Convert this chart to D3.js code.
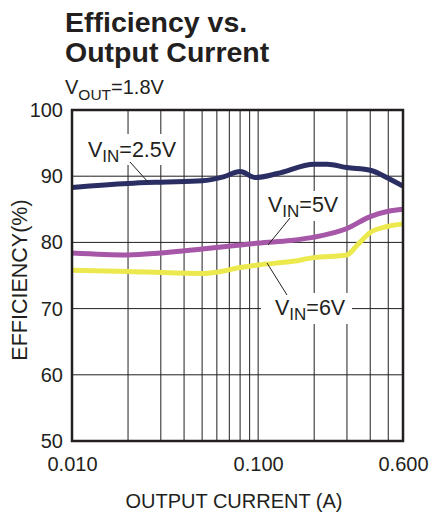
<!DOCTYPE html>
<html>
<head>
<meta charset="utf-8">
<script src="https://cdn.jsdelivr.net/npm/d3@7"></script>
<style>
body { margin: 0; background: #fff; }
text { font-family: "Liberation Sans", Arial, sans-serif; fill: #231f20; }
</style>
</head>
<body>
<div id="chart"></div>
<script>
// data
var vin25I   = [0.01, 0.02, 0.03, 0.05, 0.065, 0.08, 0.097, 0.127, 0.2, 0.235, 0.3, 0.4, 0.5, 0.6];
var vin25Eff = [88.3, 88.9, 89.1, 89.3, 89.9, 90.7, 89.8, 90.4, 91.8, 91.8, 91.3, 90.9, 89.7, 88.5];

var vin5I   = [0.01, 0.02, 0.03, 0.05, 0.08, 0.1, 0.15, 0.2, 0.3, 0.4, 0.5, 0.6];
var vin5Eff = [78.4, 78.1, 78.4, 79.0, 79.6, 79.9, 80.3, 80.8, 82.1, 83.9, 84.7, 85.0];

var vin6I   = [0.01, 0.02, 0.05, 0.06, 0.08, 0.1, 0.15, 0.2, 0.3, 0.341, 0.4, 0.494, 0.6];
var vin6Eff = [75.8, 75.6, 75.3, 75.5, 76.2, 76.6, 77.1, 77.7, 78.1, 79.6, 81.5, 82.4, 82.8];

var xGrid = [0.02, 0.03, 0.04, 0.05, 0.06, 0.07, 0.08, 0.09, 0.1, 0.2, 0.3, 0.4, 0.5];
var yGrid = [60, 70, 80, 90];
var xTicks = [0.01, 0.1, 0.6];
var yTicks = [50, 60, 70, 80, 90, 100];

var W = 430, H = 515;
var pad = {left: 72, right: 403, top: 110, bottom: 441};

var svg = d3.select("#chart").append("svg")
  .attr("width", W)
  .attr("height", H);

var x = d3.scaleLog().domain([0.01, 0.6]).range([pad.left, pad.right]);
var y = d3.scaleLinear().domain([50, 100]).range([pad.bottom, pad.top]);

// grid
svg.append("g").selectAll("line")
  .data(xGrid)
  .enter().append("line")
  .attr("x1", d => x(d)).attr("x2", d => x(d))
  .attr("y1", pad.top).attr("y2", pad.bottom)
  .attr("stroke", "#231f20").attr("stroke-width", 1);

svg.append("g").selectAll("line")
  .data(yGrid)
  .enter().append("line")
  .attr("x1", pad.left).attr("x2", pad.right)
  .attr("y1", d => y(d)).attr("y2", d => y(d))
  .attr("stroke", "#231f20").attr("stroke-width", 1);

// curves
var series = [
  {i: vin6I, e: vin6Eff, color: "#ece94e"},
  {i: vin5I, e: vin5Eff, color: "#a657a7"},
  {i: vin25I, e: vin25Eff, color: "#2b2e63"}
];

var line = d3.line()
  .x(d => x(d[0]))
  .y(d => y(d[1]))
  .curve(d3.curveMonotoneX);

svg.append("g").selectAll("path")
  .data(series)
  .enter().append("path")
  .attr("d", s => line(d3.zip(s.i, s.e)))
  .attr("fill", "none")
  .attr("stroke", s => s.color)
  .attr("stroke-width", 5)
  .attr("stroke-linecap", "butt");

// labels with white boxes and leaders
var labels = [
  {v: "=2.5V", tx: 88, ty: 157, box: [85, 134, 96, 31], lead: [130, 162, 148, 182]},
  {v: "=5V", tx: 268, ty: 212, box: [264, 191, 80, 30], lead: [290, 218, 268, 245]},
  {v: "=6V", tx: 275, ty: 315, box: [261, 293, 91, 31], lead: [267, 263, 287, 295]}
];

labels.forEach(function (l) {
  svg.append("rect")
    .attr("x", l.box[0]).attr("y", l.box[1])
    .attr("width", l.box[2]).attr("height", l.box[3])
    .attr("fill", "#fff");
  svg.append("line")
    .attr("x1", l.lead[0]).attr("y1", l.lead[1])
    .attr("x2", l.lead[2]).attr("y2", l.lead[3])
    .attr("stroke", "#231f20").attr("stroke-width", 1);
  var t = svg.append("text")
    .attr("x", l.tx).attr("y", l.ty)
    .style("font-size", "21.5px");
  t.append("tspan").text("V");
  t.append("tspan").text("IN").attr("dy", 5).style("font-size", "17px");
  t.append("tspan").text(l.v).attr("dy", -5);
});

// frame
svg.append("rect")
  .attr("x", pad.left).attr("y", pad.top)
  .attr("width", pad.right - pad.left).attr("height", pad.bottom - pad.top)
  .attr("fill", "none")
  .attr("stroke", "#231f20")
  .attr("stroke-width", 2.5);

// axes (labels only)
var xAxis = d3.axisBottom(x)
  .tickValues(xTicks)
  .tickFormat(d3.format(".3f"))
  .tickSize(0)
  .tickPadding(16);

svg.append("g")
  .attr("transform", "translate(0," + pad.bottom + ")")
  .call(xAxis)
  .call(g => g.select(".domain").remove())
  .selectAll("text")
  .style("font-size", "20px")
  .attr("fill", "#231f20");

var yAxis = d3.axisLeft(y)
  .tickValues(yTicks)
  .tickFormat(d3.format("d"))
  .tickSize(0)
  .tickPadding(9);

svg.append("g")
  .attr("transform", "translate(" + pad.left + ",0)")
  .call(yAxis)
  .call(g => g.select(".domain").remove())
  .selectAll("text")
  .style("font-size", "20px")
  .attr("fill", "#231f20");

// titles
svg.append("text")
  .attr("x", 65).attr("y", 32)
  .style("font-size", "28.5px").style("font-weight", "bold")
  .text("Efficiency vs.");

svg.append("text")
  .attr("x", 65).attr("y", 62)
  .style("font-size", "28.5px").style("font-weight", "bold")
  .text("Output Current");

var vout = svg.append("text")
  .attr("x", 65).attr("y", 94)
  .style("font-size", "20px");
vout.append("tspan").text("V");
vout.append("tspan").text("OUT").attr("dy", 6).style("font-size", "15.5px");
vout.append("tspan").text("=1.8V").attr("dy", -6);

svg.append("text")
  .attr("x", 234).attr("y", 508)
  .attr("text-anchor", "middle")
  .style("font-size", "20px")
  .text("OUTPUT CURRENT (A)");

svg.append("text")
  .attr("transform", "translate(27,280) rotate(-90)")
  .attr("text-anchor", "middle")
  .style("font-size", "21.5px")
  .text("EFFICIENCY(%)");
</script>
</body>
</html>
